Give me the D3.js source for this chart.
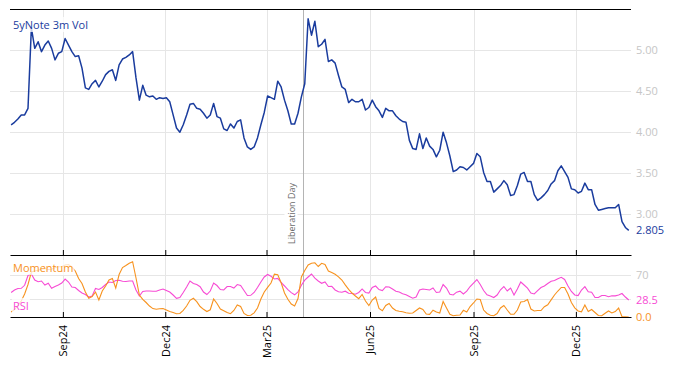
<!DOCTYPE html>
<html><head><meta charset="utf-8">
<script src="https://cdn.jsdelivr.net/npm/d3@7"></script>
<style>
body{margin:0;background:#fff}
svg{display:block}
text{font-family:"Open Sans",sans-serif}
</style>
</head><body>
<svg id="c" width="674" height="366"></svg>
<script>
// ---------- data ----------
const startDate = "2024-07-17";
const stepDays = 3;
const vol = [
4.09,4.12,4.16,4.21,4.21,4.29,5.27,5.02,5.10,4.98,
5.06,5.11,5.02,4.88,4.96,4.98,5.14,5.06,4.98,4.92,
4.93,4.78,4.54,4.52,4.59,4.63,4.55,4.62,4.70,4.74,
4.76,4.63,4.82,4.89,4.91,4.94,4.98,4.66,4.39,4.57,
4.45,4.43,4.44,4.40,4.42,4.41,4.42,4.37,4.21,4.05,
4.00,4.09,4.21,4.34,4.35,4.29,4.28,4.23,4.17,4.21,
4.35,4.19,4.17,4.04,4.02,4.10,4.05,4.13,4.15,3.93,
3.82,3.79,3.82,3.93,4.09,4.24,4.44,4.42,4.40,4.62,
4.55,4.39,4.26,4.10,4.10,4.23,4.43,4.59,5.38,5.18,
5.35,5.04,5.07,5.13,4.86,4.88,4.84,4.69,4.55,4.52,
4.36,4.40,4.37,4.37,4.40,4.27,4.30,4.39,4.31,4.26,
4.18,4.29,4.26,4.26,4.20,4.16,4.13,4.12,3.90,3.80,
3.79,3.98,3.80,3.93,3.83,3.79,3.70,3.78,4.00,3.87,
3.71,3.52,3.54,3.58,3.57,3.54,3.58,3.62,3.74,3.70,
3.51,3.40,3.40,3.27,3.31,3.35,3.41,3.36,3.23,3.24,
3.35,3.49,3.51,3.40,3.40,3.24,3.17,3.20,3.24,3.29,
3.37,3.41,3.53,3.59,3.52,3.45,3.31,3.30,3.26,3.28,
3.38,3.30,3.30,3.12,3.05,3.06,3.07,3.08,3.08,3.08,
3.12,2.91,2.84,2.805];
const rsi = [
41.1,45.3,47.8,48.1,53.2,69.6,72.1,62.0,59.2,60.4,
53.7,56.5,48.1,51.0,53.7,57.0,63.7,58.7,50.3,49.5,
44.4,40.2,37.7,33.5,35.2,47.8,46.1,49.5,54.5,58.7,
57.9,61.2,61.7,60.0,59.5,60.4,60.4,45.3,35.2,42.8,
43.6,43.6,43.1,43.1,45.3,47.0,44.4,41.9,36.9,31.4,
32.7,41.1,50.3,60.4,56.3,54.5,50.8,41.9,37.7,43.6,
57.0,52.8,46.1,45.3,51.1,51.1,48.6,54.5,52.8,44.4,
36.1,36.4,41.1,49.5,58.7,67.1,71.3,68.3,63.7,64.7,
57.9,52.0,45.8,40.8,37.2,41.9,53.3,61.7,67.1,72.1,
65.1,60.4,56.5,58.7,51.1,51.5,45.3,42.4,41.6,43.3,
39.7,39.4,38.2,41.1,47.0,41.1,40.2,49.5,52.0,46.1,
44.4,50.8,50.3,47.0,43.3,41.9,39.1,37.2,34.4,31.5,
33.5,45.3,47.0,46.1,45.3,48.6,41.1,41.9,54.5,48.6,
38.1,36.9,41.6,43.4,38.6,43.3,51.1,57.0,62.9,54.5,
44.4,37.2,35.2,32.7,36.9,45.6,51.1,43.6,48.6,36.9,
47.0,58.7,53.7,48.3,40.2,38.6,44.1,49.5,52.0,56.2,
59.9,61.2,64.2,66.6,62.9,52.0,42.8,36.9,35.9,45.3,
50.8,42.4,41.4,32.7,32.7,36.1,36.1,34.0,35.7,35.5,
36.9,39.4,33.5,28.5];
const momentum = [
8.4,12.6,19.3,26.8,38.6,54.5,75.5,77.1,78.3,80.5,
81.2,79.7,80.0,82.8,84.4,84.4,87.2,88.0,83.9,77.1,
64.6,56.2,41.9,31.5,34.4,41.9,28.5,43.6,52.0,62.0,
64.6,48.6,71.3,83.0,86.4,90.1,92.7,65.4,36.9,29.7,
24.3,18.4,14.1,12.9,13.9,14.3,11.7,9.2,7.4,5.4,
6.0,11.2,18.4,28.0,31.4,25.8,17.6,12.9,9.1,12.1,
30.2,22.6,13.4,10.6,7.4,5.5,10.9,20.1,17.6,5.9,
2.5,2.9,7.0,15.1,30.2,41.9,49.8,57.0,71.8,70.8,
57.5,40.2,29.7,21.8,18.4,31.0,67.1,78.0,87.2,90.2,
90.9,84.7,90.1,88.0,77.1,74.6,71.6,67.4,62.0,54.0,
46.5,40.2,35.2,30.7,37.7,26.8,19.3,28.5,33.5,14.3,
10.4,19.3,22.8,15.1,10.9,9.7,8.7,7.2,6.2,6.7,
10.9,15.1,12.6,5.0,4.5,11.4,8.4,6.7,26.0,15.1,
4.7,2.2,3.0,3.4,11.2,8.4,17.6,23.5,30.2,29.3,
11.7,5.9,3.0,2.2,5.9,15.1,19.3,11.7,4.5,4.5,
11.7,25.2,26.0,29.3,13.4,10.1,10.9,10.9,17.3,20.6,
28.8,36.9,43.6,49.5,49.5,38.6,24.3,15.4,10.1,8.7,
20.1,9.2,12.6,7.5,2.5,2.2,6.2,10.1,6.7,9.2,
15.0,0.5,0.2,0.0];
const tickDates = ["2024-09-01","2024-12-01","2025-03-01","2025-06-01","2025-09-01","2025-12-01"];
const tickLabels = ["Sep24","Dec24","Mar25","Jun25","Sep25","Dec25"];
const volTicks = [3.0,3.5,4.0,4.5,5.0];
const lowerGrid = [30,70];
const lowerTickLabels = [70];
const eventDate = "2025-04-02";
const eventLabel = "Liberation Day";
const titleText = "5yNote 3m Vol";

// ---------- setup ----------
const parse = d3.utcParse("%Y-%m-%d");
const start = parse(startDate);
const dates = vol.map((_, i) => d3.utcDay.offset(start, i * stepDays));
const C = {vol:"#1a3c9e", mom:"#f7921e", rsi:"#f74bd4", grid:"#e6e6e6", tick:"#c6c6c6"};

const L = 10, R = 631, T = 9.5, MB = 255, LB = 317;
const x = d3.scaleUtc().domain([parse("2024-07-16"), parse("2026-01-19")]).range([L, R]);
const y = d3.scaleLinear().domain([2.505, 5.493]).range([MB, T]);
const y2 = d3.scaleLinear().domain([0, 104]).range([LB, MB]);

const svg = d3.select("#c");

// gridlines
const g = svg.append("g");
g.selectAll(".vg").data(tickDates).join("line")
  .attr("x1", d => Math.round(x(parse(d))) + 0.5).attr("x2", d => Math.round(x(parse(d))) + 0.5)
  .attr("y1", T).attr("y2", LB).attr("stroke", C.grid);
g.selectAll(".hg").data(volTicks).join("line")
  .attr("x1", L).attr("x2", R).attr("y1", d => Math.round(y(d)) + 0.5).attr("y2", d => Math.round(y(d)) + 0.5)
  .attr("stroke", C.grid);
g.selectAll(".hg2").data(lowerGrid).join("line")
  .attr("x1", L).attr("x2", R).attr("y1", d => Math.round(y2(d)) + 0.5).attr("y2", d => Math.round(y2(d)) + 0.5)
  .attr("stroke", C.grid);

// event line
const ex = Math.round(x(parse(eventDate))) + 0.5;
svg.append("line").attr("x1", ex).attr("x2", ex).attr("y1", T).attr("y2", LB)
  .attr("stroke", "#b4b4b4").attr("stroke-width", 1);

// lines
const lineMain = d3.line().x((d, i) => x(dates[i])).y(d => y(d));
const lineLow = d3.line().x((d, i) => x(dates[i])).y(d => y2(d));
svg.append("path").datum(rsi).attr("d", lineLow).attr("fill", "none").attr("stroke", C.rsi).attr("stroke-width", 1.1);
svg.append("path").datum(momentum).attr("d", lineLow).attr("fill", "none").attr("stroke", C.mom).attr("stroke-width", 1.1);
svg.append("path").datum(vol).attr("d", lineMain).attr("fill", "none").attr("stroke", C.vol).attr("stroke-width", 1.5).attr("stroke-linejoin", "round");

// labels with translucent backgrounds
function label(txt, xx, yy, color, size, op) {
  const gg = svg.append("g");
  const r = gg.append("rect");
  const t = gg.append("text").attr("x", xx).attr("y", yy).attr("fill", color).attr("font-size", size).text(txt);
  const b = t.node().getBBox();
  r.attr("x", b.x - 1).attr("y", b.y).attr("width", b.width + 2).attr("height", b.height).attr("fill", "#fff").attr("opacity", op);
  return gg;
}
label(titleText, 13, 29, C.vol, 11, 0.75);
label("Momentum", 13, 272, C.mom, 11, 0.75);
label("RSI", 13, 310, C.rsi, 11, 0.75);

// event label (rotated)
const eg = svg.append("g").attr("transform", `translate(${ex - 9},244) rotate(-90)`);
const er = eg.append("rect");
const et = eg.append("text").attr("x", 0).attr("y", 0).attr("fill", "#6a6a6a").attr("font-size", 9).text(eventLabel);
const eb = et.node().getBBox();
er.attr("x", eb.x - 2).attr("y", eb.y).attr("width", eb.width + 4).attr("height", eb.height).attr("fill", "#fff");

// top border
svg.append("line").attr("x1", L).attr("x2", R).attr("y1", T).attr("y2", T).attr("stroke", "#000");

// bottom axis of main panel (ticks inward, no labels)
const axMain = d3.axisBottom(x).tickValues(tickDates.map(parse)).tickSizeInner(-5).tickSizeOuter(0).tickFormat("");
svg.append("g").attr("transform", `translate(0,${MB})`).call(axMain)
  .call(s => s.select(".domain").attr("stroke", "#000"));

// bottom axis of lower panel
const axLow = d3.axisBottom(x).tickValues(tickDates.map(parse)).tickSizeInner(-5).tickSizeOuter(0)
  .tickFormat((d, i) => tickLabels[i]);
const al = svg.append("g").attr("transform", `translate(0,${LB})`).call(axLow);
al.select(".domain").attr("stroke", "#000");
al.selectAll(".tick text").attr("font-size", 11).attr("font-family", '"Open Sans",sans-serif').attr("fill", "#000")
  .attr("text-anchor", "end").attr("transform", "rotate(-90)").attr("x", -8).attr("y", 0).attr("dy", "0.35em");

// right axis labels main
const ar = d3.axisRight(y).tickValues(volTicks).tickSize(0).tickPadding(5).tickFormat(d3.format(".2f"));
const arg = svg.append("g").attr("transform", `translate(${R},0)`).call(ar);
arg.select(".domain").remove();
arg.selectAll("text").attr("font-size", 11).attr("font-family", '"Open Sans",sans-serif').attr("fill", C.tick);

const ar2 = d3.axisRight(y2).tickValues(lowerTickLabels).tickSize(0).tickPadding(5).tickFormat(d3.format("d"));
const arg2 = svg.append("g").attr("transform", `translate(${R},0)`).call(ar2);
arg2.select(".domain").remove();
arg2.selectAll("text").attr("font-size", 11).attr("font-family", '"Open Sans",sans-serif').attr("fill", C.tick);

// last-value labels
const lastV = vol[vol.length - 1], lastR = rsi[rsi.length - 1], lastM = momentum[momentum.length - 1];
svg.append("text").attr("x", R + 5).attr("y", y(lastV)).attr("dy", "0.35em").attr("font-size", 11).attr("fill", C.vol).text(d3.format(".3f")(lastV));
svg.append("text").attr("x", R + 5).attr("y", y2(lastR)).attr("dy", "0.35em").attr("font-size", 11).attr("fill", C.rsi).text(d3.format(".1f")(lastR));
svg.append("text").attr("x", R + 5).attr("y", y2(lastM)).attr("dy", "0.35em").attr("font-size", 11).attr("fill", C.mom).text(d3.format(".1f")(lastM));
</script>
</body></html>
